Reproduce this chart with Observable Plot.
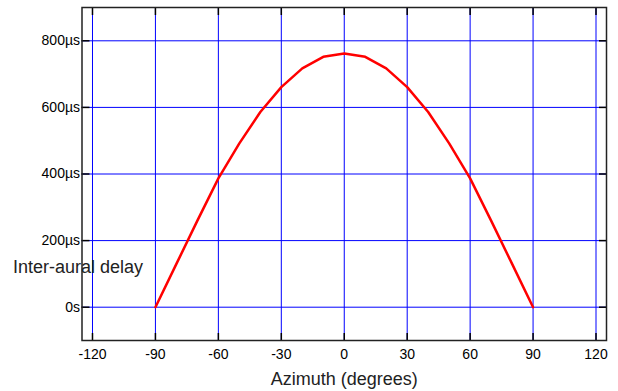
<!DOCTYPE html>
<html>
<head>
<meta charset="utf-8">
<script src="https://cdn.jsdelivr.net/npm/d3@7"></script>
<script src="https://cdn.jsdelivr.net/npm/@observablehq/plot@0.6"></script>
<style>
  html, body { margin: 0; padding: 0; background: #fff; }
  #chart svg { display: block; }
</style>
</head>
<body>
<div id="chart"></div>
<script>
// Azimuth of the source (degrees) and the resulting inter-aural time delay (µs)
const azimuth = [-90, -80, -70, -60, -50, -40, -30, -20, -10, 0, 10, 20, 30, 40, 50, 60, 70, 80, 90];
const delay   = [0, 130, 260, 387, 492, 586, 661, 717, 752, 762, 752, 717, 661, 586, 492, 387, 260, 130, 0];

const xTicks = [-120, -90, -60, -30, 0, 30, 60, 90, 120];
const yTicks = [0, 200, 400, 600, 800];

const xLabel = "Azimuth (degrees)";
const yLabel = "Inter-aural delay";

const data = azimuth.map((a, i) => ({azimuth: a, delay: delay[i]}));

const fmtY = d => d === 0 ? "0s" : `${d}µs`;

const chart = Plot.plot({
  width: 618,
  height: 391,
  marginLeft: 81.5,
  marginRight: 12,
  marginTop: 7,
  marginBottom: 51,
  style: {fontFamily: "'Liberation Sans', Arial, sans-serif", fontSize: "14px", background: "#fff", color: "#000"},
  x: {domain: [-125, 125]},
  y: {domain: [-100, 900]},
  marks: [
    Plot.gridX(xTicks, {stroke: "#0000ff", strokeOpacity: 1, strokeWidth: 1}),
    Plot.gridY(yTicks, {stroke: "#0000ff", strokeOpacity: 1, strokeWidth: 1}),
    // tick labels
    Plot.axisX(xTicks, {anchor: "bottom", tickSize: 0, tickPadding: 9, tickFormat: d => String(d), label: null, fontSize: 14}),
    Plot.axisY(yTicks, {anchor: "left", tickSize: 0, tickPadding: 2, tickFormat: fmtY, label: null, fontSize: 14}),
    // inward tick marks on all four sides
    Plot.axisX(xTicks, {anchor: "bottom", tickSize: -7, text: null, label: null, strokeWidth: 1.5}),
    Plot.axisX(xTicks, {anchor: "top", tickSize: -7, text: null, label: null, strokeWidth: 1.5}),
    Plot.axisY(yTicks, {anchor: "left", tickSize: -8, text: null, label: null, strokeWidth: 1.5}),
    Plot.axisY(yTicks, {anchor: "right", tickSize: -8, text: null, label: null, strokeWidth: 1.5}),
    Plot.line(data, {x: "azimuth", y: "delay", stroke: "#ff0000", strokeWidth: 2.5}),
    Plot.frame({stroke: "#222", strokeWidth: 1.5}),
    Plot.text([xLabel], {frameAnchor: "bottom", dy: 39, lineAnchor: "middle", fontSize: 18, fill: "#222"}),
    Plot.text([yLabel], {frameAnchor: "bottom-left", dx: -69, dy: -73, textAnchor: "start", lineAnchor: "middle", fontSize: 18, fill: "#222"})
  ]
});

document.getElementById("chart").appendChild(chart);
</script>
</body>
</html>
